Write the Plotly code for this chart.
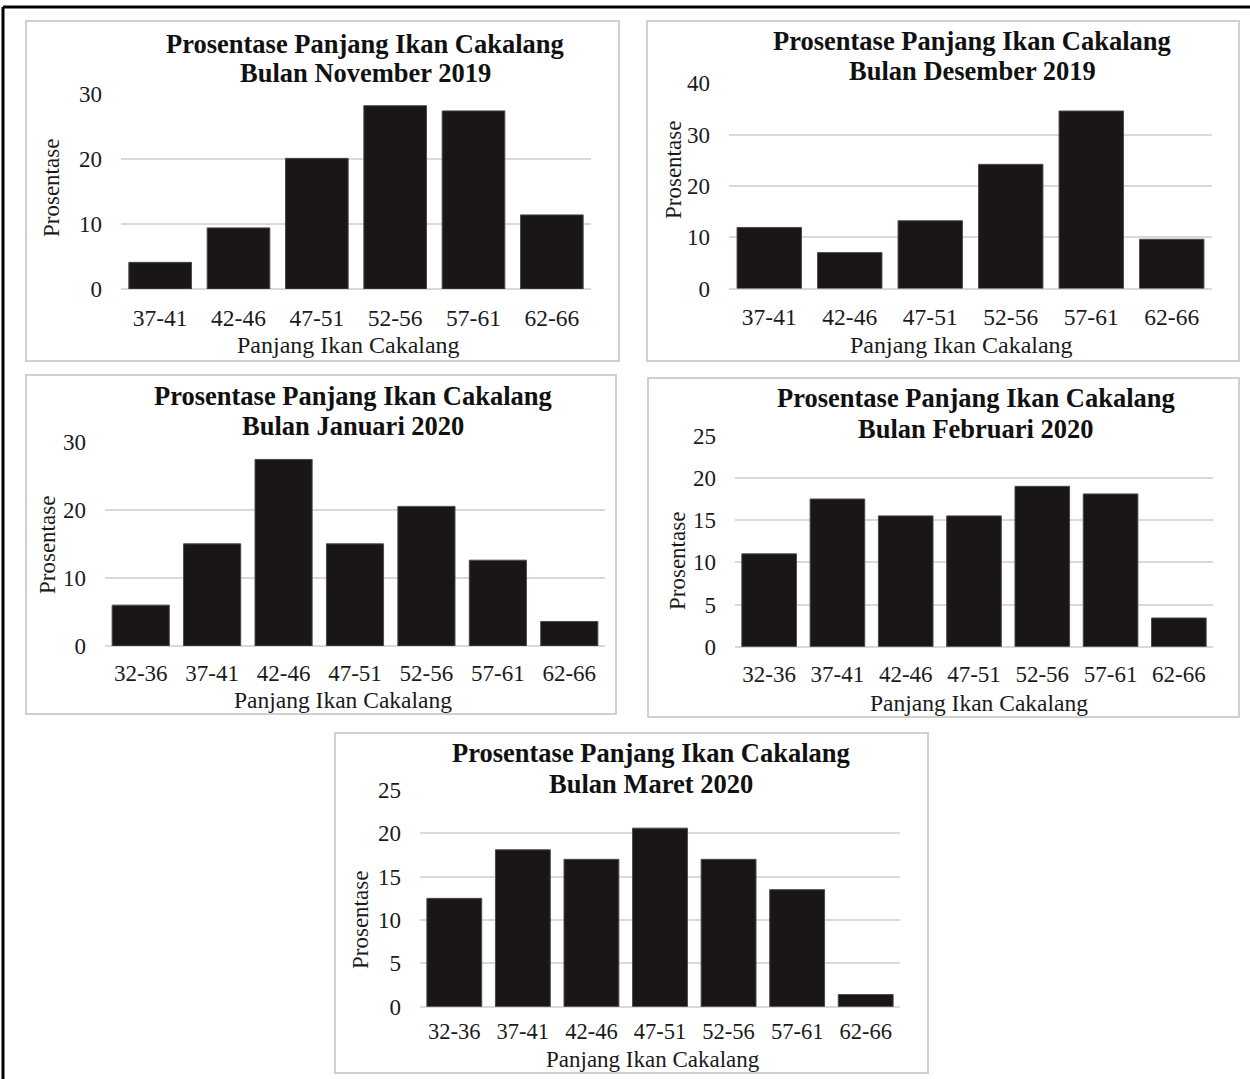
import plotly.graph_objects as go

# ---------------- data ----------------
cats_6 = ["37-41", "42-46", "47-51", "52-56", "57-61", "62-66"]
cats_7 = ["32-36", "37-41", "42-46", "47-51", "52-56", "57-61", "62-66"]

nov_2019 = [4.1, 9.4, 20.1, 28.2, 27.4, 11.4]
des_2019 = [11.9, 7.0, 13.2, 24.2, 34.6, 9.6]
jan_2020 = [6.0, 15.0, 27.4, 15.0, 20.5, 12.6, 3.6]
feb_2020 = [11.0, 17.5, 15.5, 15.5, 19.0, 18.1, 3.4]
mar_2020 = [12.5, 18.1, 17.0, 20.6, 17.0, 13.5, 1.4]

title_line1 = "Prosentase Panjang Ikan Cakalang"
title_line2 = [
    "Bulan November 2019",
    "Bulan Desember 2019",
    "Bulan Januari 2020",
    "Bulan Februari 2020",
    "Bulan Maret 2020",
]
y_title = "Prosentase"
x_title = "Panjang Ikan Cakalang"

W, H = 1250, 1079
FONT = "Liberation Serif, Times New Roman, serif"
GRID = "#d9d9d9"
BAR = "#1b1616"


def fx(px):
    return px / W


def fy(py):
    return 1 - py / H


# panel layout (pixel coords)
panels = [
    dict(cats=cats_6, vals=nov_2019, plot=(121, 591, 94, 289), yr=30, dt=10,
         box=(26, 619, 21, 361), title=(365, 44, 73), ytitle=(52, 188), xtitle=(348, 345),
         tks=23.5, tso=12, xts=24),
    dict(cats=cats_6, vals=des_2019, plot=(729, 1212, 83.3, 288.5), yr=40, dt=10,
         box=(647, 1239, 21, 361), title=(972, 41, 71), ytitle=(673, 170), xtitle=(962, 345),
         tks=23.5, tso=12, xts=24),
    dict(cats=cats_7, vals=jan_2020, plot=(105, 605, 441.7, 646), yr=30, dt=10,
         box=(26, 616, 375, 714), title=(353, 396, 426), ytitle=(47, 545), xtitle=(343, 700),
         tks=23, tso=11, xts=23.5),
    dict(cats=cats_7, vals=feb_2020, plot=(735, 1213, 435.7, 646.7), yr=25, dt=5,
         box=(648, 1239, 378, 717), title=(976, 398, 429), ytitle=(677, 561), xtitle=(979, 703),
         tks=23, tso=11, xts=23.5),
    dict(cats=cats_7, vals=mar_2020, plot=(420, 900, 790, 1006.7), yr=25, dt=5,
         box=(335, 928, 733, 1073), title=(651, 753, 784), ytitle=(360, 920), xtitle=(653, 1059),
         tks=22.5, tso=9, xts=23),
]

fig = go.Figure()
shapes = []
annotations = []

for i, p in enumerate(panels):
    n = "" if i == 0 else str(i + 1)
    x0, x1, y0, y1 = p["plot"]
    fig.add_trace(go.Bar(
        x=p["cats"], y=p["vals"],
        xaxis="x" + n, yaxis="y" + n,
        marker=dict(color=BAR, line=dict(color="#4a4a4a", width=1)),
        showlegend=False, hoverinfo="x+y",
    ))
    fig.layout["xaxis" + n] = dict(
        domain=[fx(x0), fx(x1)], anchor="y" + n, automargin=False,
        type="category", showgrid=False, zeroline=False, showline=False,
        ticks="", ticklabelstandoff=p["tso"],
        tickfont=dict(family=FONT, size=p["tks"], color="#1a1a1a"),
        fixedrange=True,
    )
    fig.layout["yaxis" + n] = dict(
        domain=[fy(y1), fy(y0)], anchor="x" + n, automargin=False,
        range=[0, p["yr"]], tickmode="linear", tick0=0, dtick=p["dt"],
        showgrid=True, gridcolor=GRID, gridwidth=2,
        zeroline=True, zerolinecolor=GRID, zerolinewidth=2,
        showline=False, ticks="", ticklabelstandoff=18,
        tickfont=dict(family=FONT, size=23, color="#1a1a1a"),
        fixedrange=True,
    )
    bx0, bx1, by0, by1 = p["box"]
    shapes.append(dict(type="rect", xref="paper", yref="paper",
                       x0=fx(bx0), x1=fx(bx1), y0=fy(by1), y1=fy(by0),
                       line=dict(color="#d0d0d0", width=2), fillcolor="rgba(0,0,0,0)",
                       layer="below"))
    tx, ty1, ty2 = p["title"]
    for txt, ty in ((title_line1, ty1), (title_line2[i], ty2)):
        annotations.append(dict(text="<b>" + txt + "</b>", xref="paper", yref="paper",
                                x=fx(tx), y=fy(ty), xanchor="center", yanchor="middle",
                                showarrow=False, align="center",
                                font=dict(family=FONT, size=26.5, color="#111111")))
    ax, ay = p["ytitle"]
    annotations.append(dict(text=y_title, xref="paper", yref="paper",
                            x=fx(ax), y=fy(ay), xanchor="center", yanchor="middle",
                            showarrow=False, textangle=-90,
                            font=dict(family=FONT, size=23, color="#1a1a1a")))
    ax, ay = p["xtitle"]
    annotations.append(dict(text=x_title, xref="paper", yref="paper",
                            x=fx(ax), y=fy(ay), xanchor="center", yanchor="middle",
                            showarrow=False,
                            font=dict(family=FONT, size=p["xts"], color="#1a1a1a")))

# outer black frame (left and top edges visible)
shapes.append(dict(type="line", xref="paper", yref="paper",
                   x0=fx(3), x1=fx(3), y0=0, y1=fy(7), line=dict(color="black", width=3)))
shapes.append(dict(type="line", xref="paper", yref="paper",
                   x0=fx(3), x1=1, y0=fy(7), y1=fy(7), line=dict(color="black", width=3)))

fig.update_layout(
    width=W, height=H,
    margin=dict(l=0, r=0, t=0, b=0, pad=0, autoexpand=False),
    paper_bgcolor="white", plot_bgcolor="white",
    bargap=0.2,
    shapes=shapes, annotations=annotations,
    font=dict(family=FONT),
)

fig.write_html(
    "out.html",
    config={"displayModeBar": False},
    post_script="document.body.style.margin='0';document.body.style.padding='0';"
                "document.documentElement.style.overflow='hidden';",
)
